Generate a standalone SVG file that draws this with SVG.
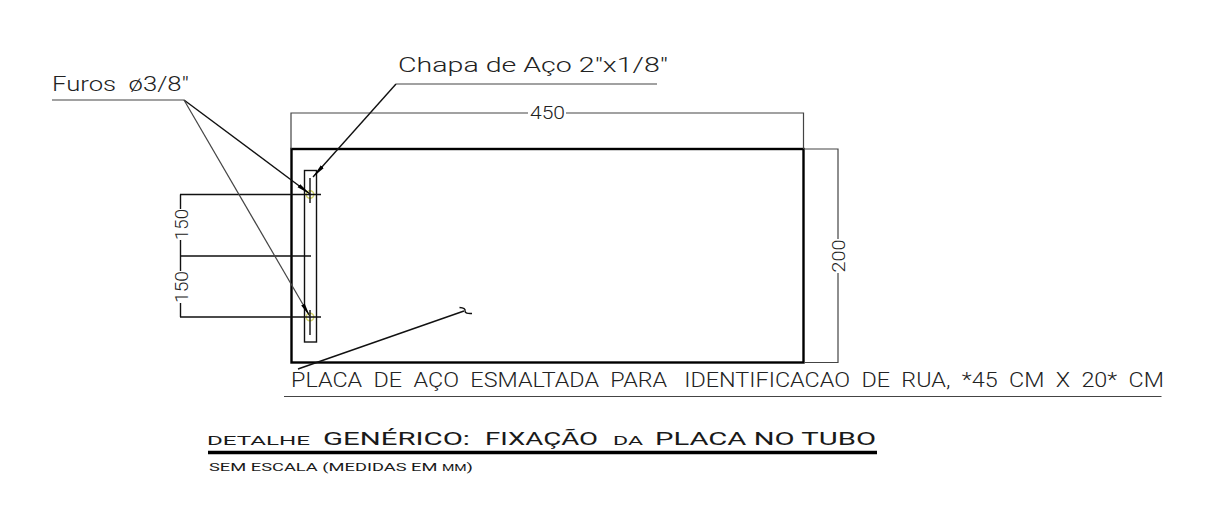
<svg xmlns="http://www.w3.org/2000/svg" width="1215" height="509" viewBox="0 0 1215 509">
<defs>
<marker id="arr" markerUnits="userSpaceOnUse" markerWidth="16" markerHeight="8" refX="14" refY="4" orient="auto"><path d="M0 2L14 4L0 6Z" fill="#000"/></marker>
</defs>
<style>
.t{font-family:"Roboto","Liberation Sans",sans-serif;font-weight:300;fill:#222}
.w{font-family:"Roboto","Liberation Sans",sans-serif;font-weight:400;fill:#1a1a1a}
.l{stroke:#444;stroke-width:1.2;fill:none}
.k{stroke:#111;stroke-width:1.4;fill:none}
.p{stroke:#000;stroke-width:2.4;fill:none}
</style>
<rect width="1215" height="509" fill="#fff"/>
<g id="placa"><rect class="p" x="291.500" y="149" width="512" height="213.500"/></g>
<g id="chapa"><rect class="k" x="304.500" y="170.500" width="12" height="171.500"/></g>
<g id="furo-1"><circle cx="310" cy="194.500" r="3.800" fill="none" stroke="#d6d66a" stroke-width="1.500"/><path class="k" d="M310 178V203"/></g>
<g id="furo-2"><circle cx="310" cy="317" r="3.800" fill="none" stroke="#d6d66a" stroke-width="1.500"/><path class="k" d="M310 310V335"/></g>
<g id="connectors">
<path class="l" d="M291 149V113H803.500V149"/>
<path class="l" d="M804 149H838V362.500H804"/>
<path class="k" d="M180 194.500H321M180 317H321M180 256H311"/>
<path class="k" d="M180.500 194.500V317"/>
<path class="l" d="M52 100H184"/>
<path class="k" d="M184 100L310 194" marker-end="url(#arr)"/>
<path class="l" d="M184 100L310 316.500" marker-end="url(#arr)"/>
<path class="l" d="M396 84H657"/>
<path class="k" d="M396 84L313 177" marker-end="url(#arr)"/>
<path class="k" d="M464 311L298 369"/>
<path class="k" d="M459.500 307.500Q466 308 465 311Q465 314 472 313.500"/>
<path class="l" d="M284 396.500H1161.500"/>
<path d="M208 452.500H877" stroke="#000" stroke-width="3.600" fill="none"/>
</g>
<g id="labels">
<rect x="528" y="108" width="38" height="10" fill="#fff"/>
<rect x="175" y="209" width="12" height="31" fill="#fff"/>
<rect x="175" y="271" width="12" height="32" fill="#fff"/>
<rect x="832" y="239" width="12" height="34" fill="#fff"/>
<text class="t" x="52" y="91" font-size="21" textLength="137" lengthAdjust="spacingAndGlyphs">Furos&#160;&#160;ø3/8"</text>
<text class="t" x="398" y="72" font-size="21" textLength="270" lengthAdjust="spacingAndGlyphs">Chapa de Aço&#160;2"x1/8"</text>
<text class="t" x="530" y="119" font-size="18" textLength="35" lengthAdjust="spacingAndGlyphs">450</text>
<text class="t" font-size="19" textLength="33" lengthAdjust="spacingAndGlyphs" transform="translate(845 272.500) rotate(-90)">200</text>
<text class="t" font-size="19" textLength="31" lengthAdjust="spacingAndGlyphs" transform="translate(188 240) rotate(-90)">150</text>
<text class="t" font-size="19" textLength="32" lengthAdjust="spacingAndGlyphs" transform="translate(188 303) rotate(-90)">150</text>
<text class="t" x="291" y="386.500" font-size="21" textLength="873" lengthAdjust="spacingAndGlyphs">PLACA&#160;&#160;DE&#160;&#160;AÇO&#160;&#160;ESMALTADA&#160;&#160;PARA&#160;&#160;&#160;IDENTIFICACAO&#160;&#160;DE&#160;&#160;RUA,&#160;&#160;*45&#160;&#160;CM&#160;&#160;X&#160;&#160;20*&#160;&#160;CM</text>
<text class="w" x="207" y="445" font-size="13.500" textLength="103" lengthAdjust="spacingAndGlyphs">DETALHE</text>
<text class="w" x="323" y="445" font-size="18" textLength="147" lengthAdjust="spacingAndGlyphs">GENÉRICO:</text>
<text class="w" x="485" y="445" font-size="18" textLength="113" lengthAdjust="spacingAndGlyphs">FIXAÇÃO</text>
<text class="w" x="613" y="445" font-size="13.500" textLength="30" lengthAdjust="spacingAndGlyphs">DA</text>
<text class="w" x="655" y="445" font-size="18" textLength="221" lengthAdjust="spacingAndGlyphs">PLACA NO TUBO</text>
<text class="w" x="209" y="470.500" font-size="11" textLength="264" lengthAdjust="spacingAndGlyphs">SEM ESCALA (MEDIDAS EM <tspan font-size="8.500">MM</tspan>)</text>
</g>
</svg>
